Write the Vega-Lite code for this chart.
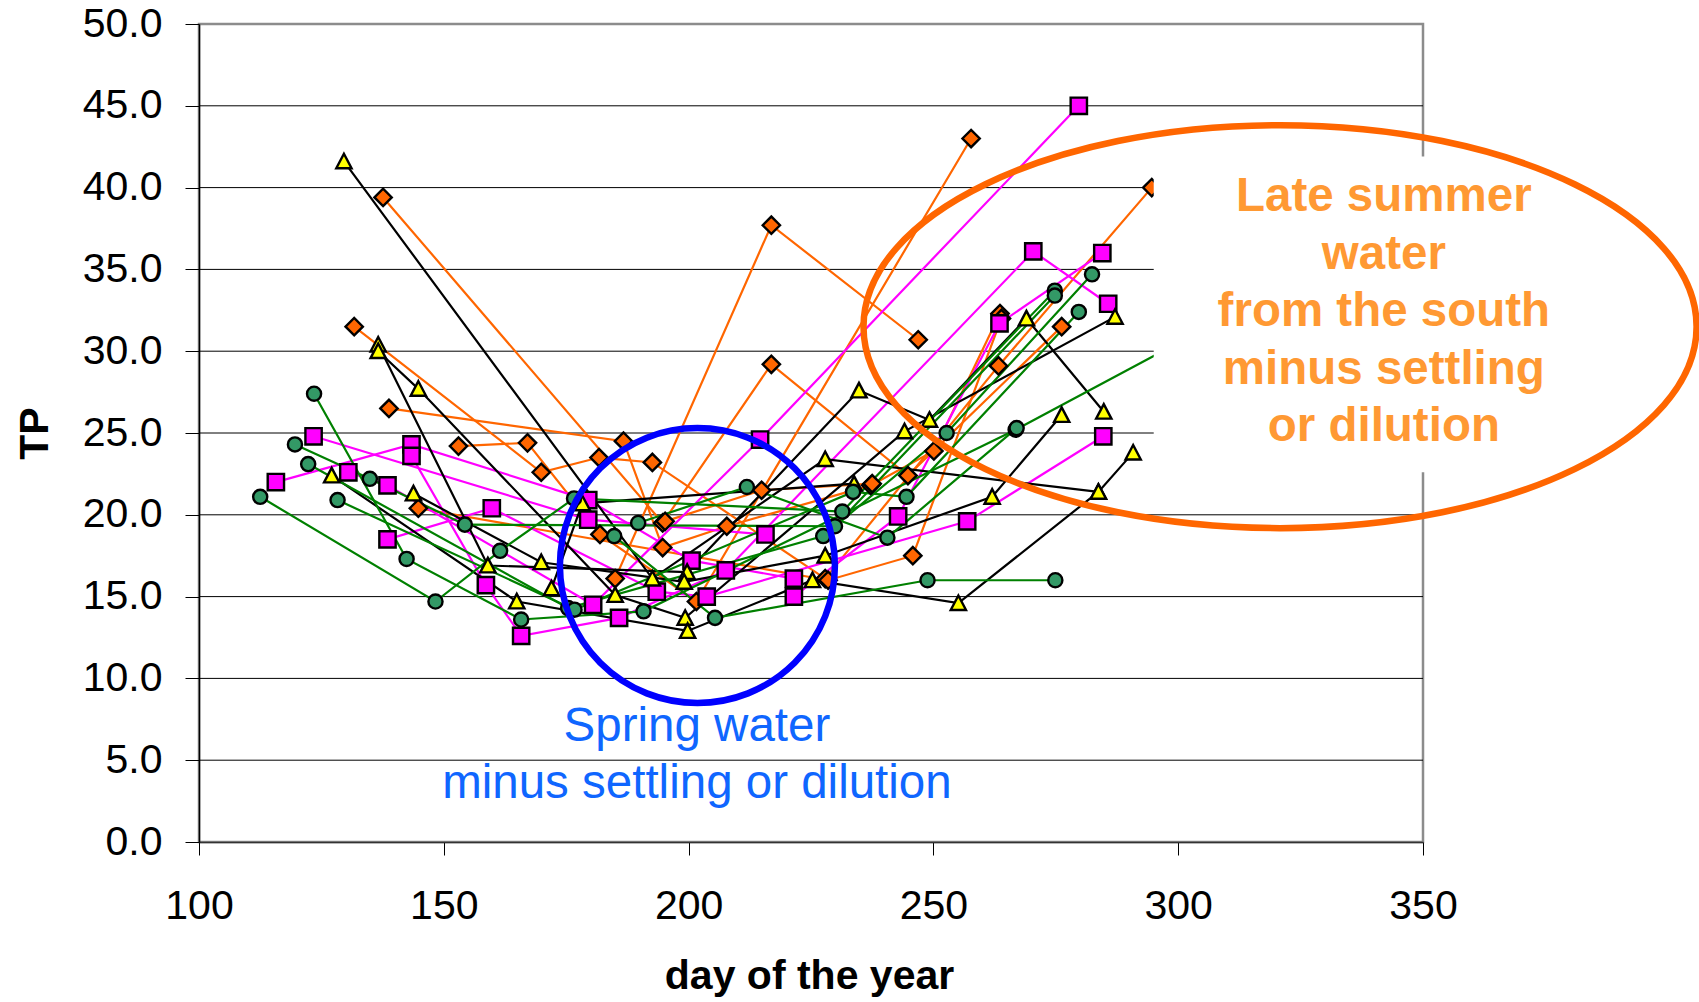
{
  "$schema": "https://vega.github.io/schema/vega-lite/v6.json",
  "width": 1224,
  "height": 818,
  "autosize": "none",
  "padding": {"left": 199, "top": 24, "right": 276, "bottom": 160},
  "background": "white",
  "config": {
    "font": "Liberation Sans",
    "view": {"stroke": "#8c8c8c", "strokeWidth": 2.5},
    "axis": {"grid": false, "labelFlush": false, "labelOverlap": false, "labelFont": "Liberation Sans", "labelFontSize": 41, "labelColor": "black", "tickColor": "black", "domainColor": "black", "titleFont": "Liberation Sans", "titleFontSize": 41, "titleFontWeight": "bold", "titleColor": "black"}
  },
  "datasets": {
    "grid": [{"v": 5}, {"v": 10}, {"v": 15}, {"v": 20}, {"v": 25}, {"v": 30}, {"v": 35}, {"v": 40}, {"v": 45}],
    "pts": [
      {"s": "O1", "g": "o", "d": 137.6, "v": 39.4}, {"s": "O1", "g": "o", "d": 194.7, "v": 19.5}, {"s": "O1", "g": "o", "d": 216.9, "v": 29.2}, {"s": "O1", "g": "o", "d": 244.8, "v": 22.4}, {"s": "O1", "g": "o", "d": 276.2, "v": 31.5},
      {"s": "O2", "g": "o", "d": 131.7, "v": 31.5}, {"s": "O2", "g": "o", "d": 169.9, "v": 22.6}, {"s": "O2", "g": "o", "d": 181.7, "v": 23.5}, {"s": "O2", "g": "o", "d": 192.6, "v": 23.2}, {"s": "O2", "g": "o", "d": 227.9, "v": 16.1}, {"s": "O2", "g": "o", "d": 263.3, "v": 29.1}, {"s": "O2", "g": "o", "d": 294.6, "v": 40.0},
      {"s": "O3", "g": "o", "d": 138.8, "v": 26.5}, {"s": "O3", "g": "o", "d": 186.7, "v": 24.5}, {"s": "O3", "g": "o", "d": 194.7, "v": 18.0}, {"s": "O3", "g": "o", "d": 207.8, "v": 19.3}, {"s": "O3", "g": "o", "d": 237.2, "v": 21.8}, {"s": "O3", "g": "o", "d": 250.1, "v": 23.9}, {"s": "O3", "g": "o", "d": 263.6, "v": 32.3},
      {"s": "O4", "g": "o", "d": 153.0, "v": 24.2}, {"s": "O4", "g": "o", "d": 167.1, "v": 24.4}, {"s": "O4", "g": "o", "d": 181.9, "v": 18.8}, {"s": "O4", "g": "o", "d": 201.6, "v": 14.7}, {"s": "O4", "g": "o", "d": 257.7, "v": 43.0},
      {"s": "O5", "g": "o", "d": 144.8, "v": 20.4}, {"s": "O5", "g": "o", "d": 228.5, "v": 16.0}, {"s": "O5", "g": "o", "d": 245.8, "v": 17.5}, {"s": "O5", "g": "o", "d": 263.9, "v": 32.0},
      {"s": "O6", "g": "o", "d": 185.0, "v": 16.1}, {"s": "O6", "g": "o", "d": 216.9, "v": 37.7}, {"s": "O6", "g": "o", "d": 246.9, "v": 30.7},
      {"s": "O7", "g": "o", "d": 195.2, "v": 19.6}, {"s": "O7", "g": "o", "d": 214.9, "v": 21.5}, {"s": "O7", "g": "o", "d": 237.5, "v": 21.9},
      {"s": "M1", "g": "m", "d": 115.7, "v": 22.0}, {"s": "M1", "g": "m", "d": 143.4, "v": 24.3}, {"s": "M1", "g": "m", "d": 179.5, "v": 20.9}, {"s": "M1", "g": "m", "d": 200.6, "v": 17.2}, {"s": "M1", "g": "m", "d": 221.5, "v": 16.1},
      {"s": "M2", "g": "m", "d": 123.4, "v": 24.8}, {"s": "M2", "g": "m", "d": 179.5, "v": 19.7}, {"s": "M2", "g": "m", "d": 215.7, "v": 18.8},
      {"s": "M3", "g": "m", "d": 130.5, "v": 22.6}, {"s": "M3", "g": "m", "d": 138.5, "v": 21.8}, {"s": "M3", "g": "m", "d": 180.5, "v": 14.5}, {"s": "M3", "g": "m", "d": 214.6, "v": 24.6}, {"s": "M3", "g": "m", "d": 279.7, "v": 45.0},
      {"s": "M4", "g": "m", "d": 138.5, "v": 18.5}, {"s": "M4", "g": "m", "d": 159.8, "v": 20.4}, {"s": "M4", "g": "m", "d": 193.5, "v": 15.3}, {"s": "M4", "g": "m", "d": 203.7, "v": 15.0}, {"s": "M4", "g": "m", "d": 256.9, "v": 19.6}, {"s": "M4", "g": "m", "d": 284.7, "v": 24.8},
      {"s": "M5", "g": "m", "d": 143.4, "v": 23.6}, {"s": "M5", "g": "m", "d": 158.6, "v": 15.7}, {"s": "M5", "g": "m", "d": 165.8, "v": 12.6}, {"s": "M5", "g": "m", "d": 185.8, "v": 13.7}, {"s": "M5", "g": "m", "d": 207.6, "v": 16.6}, {"s": "M5", "g": "m", "d": 270.4, "v": 36.1}, {"s": "M5", "g": "m", "d": 285.7, "v": 32.9},
      {"s": "M6", "g": "m", "d": 221.5, "v": 15.0}, {"s": "M6", "g": "m", "d": 242.8, "v": 19.9}, {"s": "M6", "g": "m", "d": 263.5, "v": 31.7}, {"s": "M6", "g": "m", "d": 284.5, "v": 36.0},
      {"s": "T1", "g": "b", "d": 129.6, "v": 41.6}, {"s": "T1", "g": "b", "d": 192.6, "v": 16.1}, {"s": "T1", "g": "b", "d": 227.9, "v": 23.4}, {"s": "T1", "g": "b", "d": 283.7, "v": 21.4},
      {"s": "T2", "g": "b", "d": 136.6, "v": 30.4}, {"s": "T2", "g": "b", "d": 159.0, "v": 16.9}, {"s": "T2", "g": "b", "d": 199.7, "v": 16.5}, {"s": "T2", "g": "b", "d": 234.8, "v": 27.6}, {"s": "T2", "g": "b", "d": 249.2, "v": 25.8}, {"s": "T2", "g": "b", "d": 269.0, "v": 32.0}, {"s": "T2", "g": "b", "d": 284.8, "v": 26.3},
      {"s": "T3", "g": "b", "d": 136.6, "v": 30.0}, {"s": "T3", "g": "b", "d": 144.8, "v": 27.7}, {"s": "T3", "g": "b", "d": 185.0, "v": 15.1}, {"s": "T3", "g": "b", "d": 199.3, "v": 13.7}, {"s": "T3", "g": "b", "d": 244.1, "v": 25.1}, {"s": "T3", "g": "b", "d": 287.1, "v": 32.1},
      {"s": "T4", "g": "b", "d": 143.8, "v": 21.3}, {"s": "T4", "g": "b", "d": 169.9, "v": 17.1}, {"s": "T4", "g": "b", "d": 199.1, "v": 15.9}, {"s": "T4", "g": "b", "d": 227.9, "v": 17.5}, {"s": "T4", "g": "b", "d": 262.0, "v": 21.1}, {"s": "T4", "g": "b", "d": 276.2, "v": 26.1},
      {"s": "T5", "g": "b", "d": 127.1, "v": 22.4}, {"s": "T5", "g": "b", "d": 164.9, "v": 14.7}, {"s": "T5", "g": "b", "d": 199.8, "v": 12.9}, {"s": "T5", "g": "b", "d": 225.3, "v": 16.0}, {"s": "T5", "g": "b", "d": 255.1, "v": 14.6}, {"s": "T5", "g": "b", "d": 283.7, "v": 21.4}, {"s": "T5", "g": "b", "d": 290.8, "v": 23.8},
      {"s": "T6", "g": "b", "d": 172.0, "v": 15.5}, {"s": "T6", "g": "b", "d": 178.3, "v": 20.7}, {"s": "T6", "g": "b", "d": 233.8, "v": 21.9},
      {"s": "G1", "g": "g", "d": 112.5, "v": 21.1}, {"s": "G1", "g": "g", "d": 148.3, "v": 14.7}, {"s": "G1", "g": "g", "d": 161.5, "v": 17.8}, {"s": "G1", "g": "g", "d": 176.6, "v": 21.0}, {"s": "G1", "g": "g", "d": 231.4, "v": 20.2}, {"s": "G1", "g": "g", "d": 274.8, "v": 33.7},
      {"s": "G2", "g": "g", "d": 123.5, "v": 27.4}, {"s": "G2", "g": "g", "d": 142.4, "v": 17.3}, {"s": "G2", "g": "g", "d": 165.8, "v": 13.6}, {"s": "G2", "g": "g", "d": 190.8, "v": 14.1}, {"s": "G2", "g": "g", "d": 266.8, "v": 25.2}, {"s": "G2", "g": "g", "d": 310.0, "v": 32.1},
      {"s": "G3", "g": "g", "d": 119.6, "v": 24.3}, {"s": "G3", "g": "g", "d": 134.9, "v": 22.2}, {"s": "G3", "g": "g", "d": 154.3, "v": 19.4}, {"s": "G3", "g": "g", "d": 229.9, "v": 19.3}, {"s": "G3", "g": "g", "d": 274.8, "v": 33.4},
      {"s": "G4", "g": "g", "d": 122.3, "v": 23.1}, {"s": "G4", "g": "g", "d": 175.4, "v": 14.3}, {"s": "G4", "g": "g", "d": 227.5, "v": 18.7}, {"s": "G4", "g": "g", "d": 252.7, "v": 25.0}, {"s": "G4", "g": "g", "d": 282.4, "v": 34.7},
      {"s": "G5", "g": "g", "d": 128.3, "v": 20.9}, {"s": "G5", "g": "g", "d": 176.7, "v": 14.2}, {"s": "G5", "g": "g", "d": 233.6, "v": 21.4}, {"s": "G5", "g": "g", "d": 244.5, "v": 21.1}, {"s": "G5", "g": "g", "d": 279.7, "v": 32.4},
      {"s": "G6", "g": "g", "d": 184.8, "v": 18.7}, {"s": "G6", "g": "g", "d": 205.4, "v": 13.7}, {"s": "G6", "g": "g", "d": 248.8, "v": 16.0}, {"s": "G6", "g": "g", "d": 274.9, "v": 16.0},
      {"s": "G7", "g": "g", "d": 189.7, "v": 19.5}, {"s": "G7", "g": "g", "d": 211.9, "v": 21.7}, {"s": "G7", "g": "g", "d": 240.6, "v": 18.6}, {"s": "G7", "g": "g", "d": 267.0, "v": 25.3}
    ]
  },
  "layer": [
    {
      "data": {"name": "grid"},
      "mark": {"type": "rule", "color": "black", "strokeWidth": 1},
      "encoding": {
        "y": {"field": "v", "type": "quantitative", "scale": {"domain": [0, 50], "nice": false, "zero": false}}
      }
    },
    {
      "data": {"name": "pts"},
      "mark": {"type": "line", "strokeWidth": 2.2},
      "encoding": {
        "x": {"field": "d", "type": "quantitative", "scale": {"domain": [100, 350], "nice": false, "zero": false},
              "axis": {"title": "day of the year", "values": [100, 150, 200, 250, 300, 350], "tickSize": 13, "labelPadding": 31, "domainColor": "#333333", "domainWidth": 1.5, "titleX": 610, "titleY": 146, "titleBaseline": "alphabetic", "titleAlign": "center"}},
        "y": {"field": "v", "type": "quantitative", "scale": {"domain": [0, 50], "nice": false, "zero": false},
              "axis": {"title": "TP", "values": [0, 5, 10, 15, 20, 25, 30, 35, 40, 45, 50], "format": ".1f", "tickSize": 14, "labelPadding": 23, "domainWidth": 1.5, "titleX": -152, "titleY": 409, "titleAngle": 270, "titleBaseline": "alphabetic", "titleAlign": "center"}},
        "detail": {"field": "s"},
        "color": {"field": "g", "type": "nominal", "scale": {"domain": ["o", "m", "b", "g"], "range": ["#FF6600", "#FF00FF", "#000000", "#008000"]}, "legend": null}
      }
    },
    {
      "data": {"name": "pts"},
      "mark": {"type": "point", "filled": true, "stroke": "black", "strokeWidth": 2.4, "opacity": 1},
      "encoding": {
        "x": {"field": "d", "type": "quantitative"},
        "y": {"field": "v", "type": "quantitative"},
        "fill": {"field": "g", "type": "nominal", "scale": {"domain": ["o", "m", "b", "g"], "range": ["#FF6600", "#FF00FF", "#FFFF00", "#339966"]}, "legend": null},
        "shape": {"field": "g", "type": "nominal", "scale": {"domain": ["o", "m", "b", "g"], "range": ["diamond", "square", "M 0 -1 L 1 0.9 L -1 0.9 Z", "circle"]}, "legend": null},
        "size": {"field": "g", "type": "nominal", "scale": {"domain": ["o", "m", "b", "g"], "range": [300, 200, 360, 225]}, "legend": null}
      }
    },
    {
      "data": {"values": [{}]},
      "mark": {"type": "rect", "fill": "white", "stroke": null},
      "encoding": {
        "x": {"datum": 295, "type": "quantitative"},
        "x2": {"datum": 385},
        "y": {"datum": 41.9, "type": "quantitative"},
        "y2": {"datum": 22.6}
      }
    },
    {
      "data": {"values": [{}]},
      "mark": {"type": "text", "text": ["Late summer", "water", "from the south", "minus settling", "or dilution"], "font": "Liberation Sans", "fontSize": 47.5, "fontWeight": "bold", "color": "#FF9933", "align": "center", "baseline": "middle", "lineHeight": 57.5},
      "encoding": {
        "x": {"datum": 342, "type": "quantitative"},
        "y": {"datum": 39.4, "type": "quantitative"}
      }
    },
    {
      "data": {"values": [{}]},
      "mark": {"type": "point", "shape": "M -1 0 C -1 -0.2668 -0.5523 -0.4837 0 -0.4837 C 0.5523 -0.4837 1 -0.2668 1 0 C 1 0.2668 0.5523 0.4837 0 0.4837 C -0.5523 0.4837 -1 0.2668 -1 0 Z", "size": 694000, "filled": false, "stroke": "#FF6600", "strokeWidth": 6.5, "opacity": 1},
      "encoding": {
        "x": {"datum": 320.8, "type": "quantitative"},
        "y": {"datum": 31.5, "type": "quantitative"}
      }
    },
    {
      "data": {"values": [{}]},
      "mark": {"type": "point", "shape": "circle", "size": 75625, "filled": false, "stroke": "#0000FF", "strokeWidth": 6.5, "opacity": 1},
      "encoding": {
        "x": {"datum": 201.8, "type": "quantitative"},
        "y": {"datum": 16.9, "type": "quantitative"}
      }
    },
    {
      "data": {"values": [{}]},
      "mark": {"type": "text", "text": ["Spring water", "minus settling or dilution"], "font": "Liberation Sans", "fontSize": 47.5, "color": "#0F66FF", "align": "center", "baseline": "middle", "lineHeight": 57.5},
      "encoding": {
        "x": {"datum": 201.7, "type": "quantitative"},
        "y": {"datum": 7.05, "type": "quantitative"}
      }
    }
  ]
}
